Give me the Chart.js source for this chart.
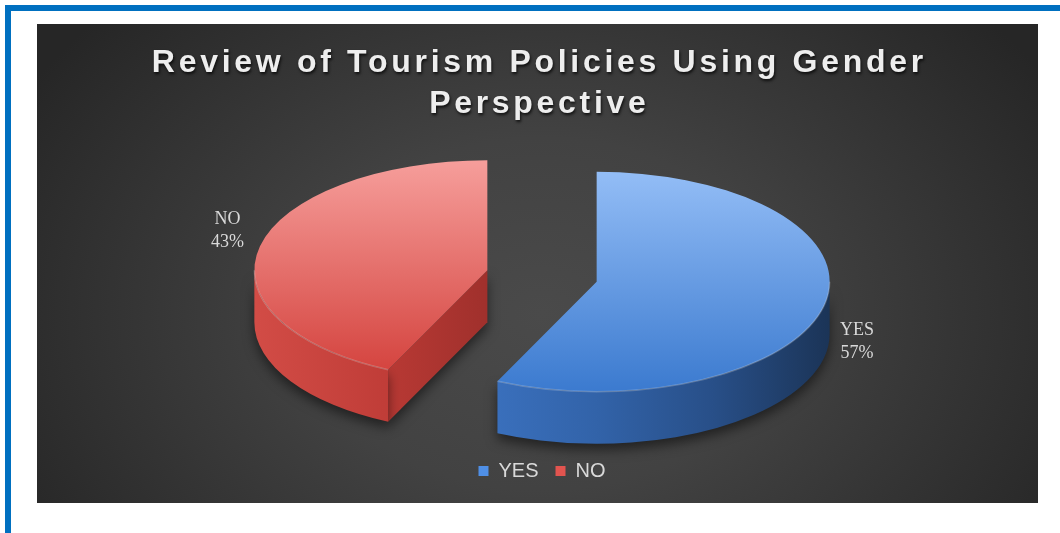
<!DOCTYPE html>
<html>
<head>
<meta charset="utf-8">
<title>Review of Tourism Policies Using Gender Perspective</title>
<script src="https://cdn.jsdelivr.net/npm/chart.js@4.4.1/dist/chart.umd.min.js"></script>
<style>
    html, body { margin: 0; padding: 0; background: #fff; overflow: hidden; }
    body { width: 1060px; height: 533px; position: relative; }
    .moldura {
        position: absolute; left: 5px; top: 5px;
        width: 1100px; height: 600px;
        border: 6px solid #0070c0; box-sizing: border-box;
    }
    .painel {
        position: absolute; left: 37px; top: 24px;
        width: 1001px; height: 479px;
        background: radial-gradient(ellipse 600px 440px at 505px 290px, #4a4a4a 0%, #424242 40%, #262626 100%);
    }
    .titulo {
        position: absolute; left: 0; top: 17px; width: 100%;
        text-align: center;
        font: bold 32px "Liberation Sans", Arial, sans-serif;
        letter-spacing: 3.7px; line-height: 41px;
        padding-left: 3.7px; box-sizing: border-box;
        color: #eeeeee;
        text-shadow: 1px 2px 3px rgba(0, 0, 0, 0.75);
    }
    canvas { position: absolute; left: 0; top: 0; }
</style>
</head>
<body>
<div class="moldura"></div>
<div class="painel">
    <canvas id="grafico" width="1001" height="479"></canvas>
    <div class="titulo">Review of Tourism Policies Using Gender<br>Perspective</div>
</div>
<script>
const categories = ["YES", "NO"];
const shares = [57, 43];

// look of the 3D pie
const RADIUS = 233;
const SQUASH = 0.472;
const DEPTH = 52;
const EXPLODE = 56;

const topColors = [["#93bdf6", "#3b7acf"], ["#f69e9b", "#d3403b"]];
const wallColors = [
    [[0, "#4a86d6"], [0.27, "#3a70bd"], [0.5, "#3263a9"], [0.75, "#284f88"], [1, "#1b3457"]],
    [[0, "#d24c46"], [0.3, "#bf3c37"], [1, "#9c2c28"]]
];
const faceColors = [["#2f5c9c", "#244a80"], ["#b83934", "#a0302c"]];
const legendColors = ["#4f8fe6", "#e2544f"];

const total = shares.reduce((a, b) => a + b, 0);

function geometria(arc) {
    const p = arc.getProps(["x", "y", "startAngle", "endAngle", "outerRadius"], true);
    const mid = (p.startAngle + p.endAngle) / 2;
    return {
        x: p.x, y: p.y,
        start: p.startAngle, end: p.endAngle, mid,
        rx: p.outerRadius, ry: p.outerRadius * SQUASH,
        cx: p.x + Math.cos(mid) * EXPLODE,
        cy: p.y + Math.sin(mid) * EXPLODE * SQUASH
    };
}

function gradienteParede(ctx, g, stops) {
    const grad = ctx.createLinearGradient(g.cx - g.rx, 0, g.cx + g.rx, 0);
    stops.forEach(s => grad.addColorStop(s[0], s[1]));
    return grad;
}

function desenharFaceRadial(ctx, g, ang, cores) {
    const px = g.cx + g.rx * Math.cos(ang);
    const py = g.cy + g.ry * Math.sin(ang);
    const grad = ctx.createLinearGradient(Math.min(px, g.cx), 0, Math.max(px, g.cx), 0);
    grad.addColorStop(0, cores[0]);
    grad.addColorStop(1, cores[1]);
    ctx.beginPath();
    ctx.moveTo(g.cx, g.cy);
    ctx.lineTo(px, py);
    ctx.lineTo(px, py + DEPTH);
    ctx.lineTo(g.cx, g.cy + DEPTH);
    ctx.closePath();
    ctx.fillStyle = grad;
    ctx.fill();
}

function desenharParedes(ctx, g, i) {
    ctx.save();
    ctx.shadowColor = "rgba(0, 0, 0, 0.5)";
    ctx.shadowBlur = 12;
    ctx.shadowOffsetY = 6;

    // cut faces that turn towards the viewer
    if (Math.cos(g.start) < -0.01) desenharFaceRadial(ctx, g, g.start, faceColors[i]);
    if (Math.cos(g.end) > 0.01) desenharFaceRadial(ctx, g, g.end, faceColors[i]);

    // curved side, front half only
    const a0 = Math.max(g.start, 0);
    const a1 = Math.min(g.end, Math.PI);
    if (a1 > a0) {
        ctx.beginPath();
        ctx.ellipse(g.cx, g.cy, g.rx, g.ry, 0, a0, a1, false);
        ctx.ellipse(g.cx, g.cy + DEPTH, g.rx, g.ry, 0, a1, a0, true);
        ctx.closePath();
        ctx.fillStyle = gradienteParede(ctx, g, wallColors[i]);
        ctx.fill();
    }
    ctx.restore();
}

function desenharTopo(ctx, arc, g) {
    ctx.save();
    ctx.translate(g.cx, g.cy);
    ctx.scale(1, SQUASH);
    ctx.translate(-g.x, -g.y);
    arc.draw(ctx);
    ctx.restore();

    // light rim on the front edge of the top
    const a0 = Math.max(g.start, 0);
    const a1 = Math.min(g.end, Math.PI);
    if (a1 > a0) {
        ctx.save();
        ctx.beginPath();
        ctx.ellipse(g.cx, g.cy, g.rx, g.ry, 0, a0, a1, false);
        ctx.strokeStyle = "rgba(255, 255, 255, 0.22)";
        ctx.lineWidth = 1.5;
        ctx.stroke();
        ctx.restore();
    }
}

const pizza3d = {
    id: "pizza3d",
    beforeDatasetsDraw(chart) {
        const ctx = chart.ctx;
        const arcs = chart.getDatasetMeta(0).data;
        // back slice first
        [1, 0].forEach(i => {
            const g = geometria(arcs[i]);
            desenharParedes(ctx, g, i);
            desenharTopo(ctx, arcs[i], g);
        });
        return false;
    },
    afterDraw(chart) {
        const ctx = chart.ctx;
        const arcs = chart.getDatasetMeta(0).data;
        ctx.save();
        ctx.font = '18px "Liberation Serif", "Times New Roman", serif';
        ctx.fillStyle = "#d9d9d9";
        ctx.textAlign = "center";
        ctx.textBaseline = "middle";
        arcs.forEach((arc, i) => {
            const g = geometria(arc);
            const px = g.cx + g.rx * Math.cos(g.mid);
            let py = g.cy + g.ry * Math.sin(g.mid);
            py += Math.sin(g.mid) > 0 ? DEPTH * 0.7 : -DEPTH * 0.3;
            const linhas = [categories[i], Math.round(shares[i] / total * 100) + "%"];
            const w = Math.max(...linhas.map(t => ctx.measureText(t).width));
            const lado = Math.cos(g.mid) >= 0 ? 1 : -1;
            const lx = px + lado * (w / 2 + 16);
            linhas.forEach((t, j) => ctx.fillText(t, lx, py + (j - 0.5) * 23));
        });
        ctx.restore();
    }
};

function corTopo(context) {
    const i = context.dataIndex;
    const area = context.chart.chartArea;
    if (!area) return topColors[i][1];
    const cy = (area.top + area.bottom) / 2;
    const grad = context.chart.ctx.createLinearGradient(0, cy - RADIUS, 0, cy + RADIUS);
    grad.addColorStop(0, topColors[i][0]);
    grad.addColorStop(1, topColors[i][1]);
    return grad;
}

const legendaPadrao = (Chart.overrides.pie || Chart.overrides.doughnut).plugins.legend.labels.generateLabels;

new Chart(document.getElementById("grafico"), {
    type: "pie",
    data: {
        labels: categories,
        datasets: [{
            data: shares,
            backgroundColor: corTopo,
            borderWidth: 0,
            radius: RADIUS
        }]
    },
    options: {
        responsive: false,
        animation: false,
        layout: { padding: { left: 9, right: 0, top: 84, bottom: 12 } },
        plugins: {
            tooltip: { enabled: false },
            title: { display: false },
            legend: {
                position: "bottom",
                labels: {
                    color: "#d9d9d9",
                    font: { family: '"Liberation Sans", Arial, sans-serif', size: 20 },
                    boxWidth: 10,
                    boxHeight: 10,
                    padding: 17,
                    generateLabels(chart) {
                        const itens = legendaPadrao(chart);
                        itens.forEach((item, i) => {
                            item.fillStyle = legendColors[i];
                            item.strokeStyle = legendColors[i];
                            item.lineWidth = 0;
                        });
                        return itens;
                    }
                }
            }
        }
    },
    plugins: [pizza3d]
});
</script>
</body>
</html>
